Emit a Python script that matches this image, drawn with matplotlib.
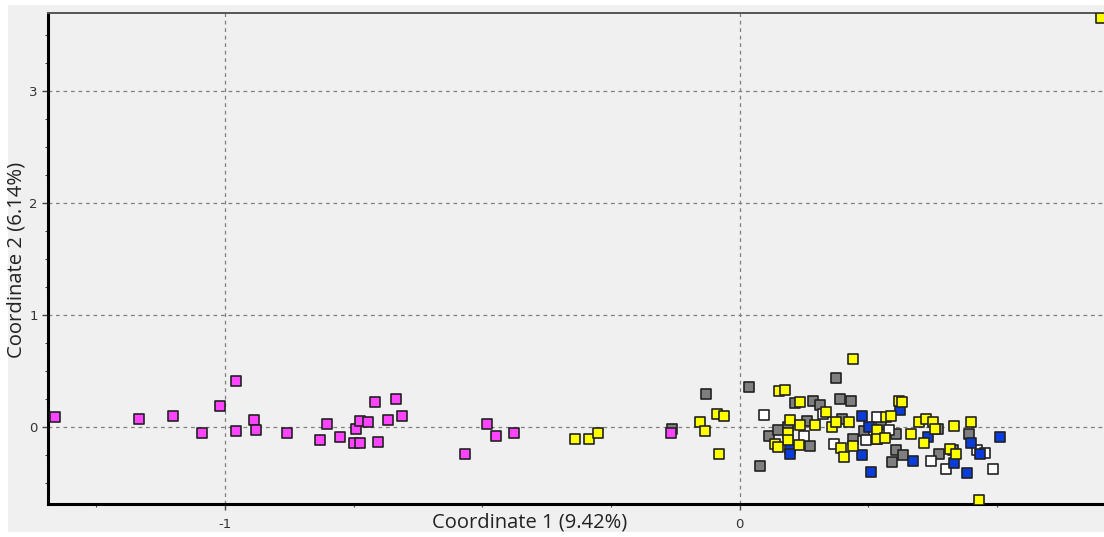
import matplotlib
matplotlib.use("Agg")
import matplotlib.pyplot as plt
from matplotlib.patches import Rectangle
from matplotlib.ticker import MultipleLocator

plt.rcParams['axes.unicode_minus'] = False

# PCoA coordinates
magenta_x = [-1.330, -1.167, -1.101, -1.045, -1.010, -0.979, -0.979, -0.944, -0.940, -0.880,
             -0.816, -0.802, -0.777, -0.750, -0.738, -0.746, -0.738, -0.722, -0.709, -0.703,
             -0.683, -0.668, -0.656, -0.534, -0.491, -0.474, -0.439, -0.134]
magenta_y = [0.09, 0.07, 0.10, -0.05, 0.19, 0.41, -0.04, 0.06, -0.03, -0.05,
             -0.12, 0.03, -0.09, -0.14, -0.14, -0.02, 0.05, 0.04, 0.22, -0.13,
             0.06, 0.25, 0.10, -0.24, 0.03, -0.08, -0.05, -0.05]

gray_x = [-0.132, -0.066, 0.017, 0.039, 0.056, 0.074, 0.093, 0.107, 0.130, 0.136,
          0.142, 0.155, 0.186, 0.194, 0.198, 0.217, 0.219, 0.241, 0.274, 0.303,
          0.303, 0.317, 0.295, 0.386, 0.388, 0.414, 0.445]
gray_y = [-0.02, 0.29, 0.36, -0.35, -0.08, -0.03, 0.00, 0.21, 0.05, -0.17,
          0.23, 0.20, 0.44, 0.25, 0.07, 0.23, -0.11, -0.04, 0.03, -0.06,
          -0.21, -0.25, -0.31, -0.02, -0.24, -0.21, -0.06]

white_x = [0.047, 0.124, 0.161, 0.184, 0.245, 0.266, 0.289, 0.371, 0.400, 0.460, 0.476, 0.491]
white_y = [0.11, -0.08, 0.12, -0.15, -0.12, 0.09, -0.03, -0.30, -0.38, -0.21, -0.23, -0.38]

blue_x = [0.097, 0.097, 0.237, 0.252, 0.237, 0.254, 0.311, 0.336, 0.365, 0.449,
          0.417, 0.441, 0.505, 0.466]
blue_y = [-0.20, -0.24, 0.10, 0.00, -0.25, -0.40, 0.15, -0.30, -0.09, -0.14,
          -0.32, -0.41, -0.09, -0.24]

yellow_x = [-0.320, -0.293, -0.276, -0.078, -0.068, -0.045, -0.031, -0.041, 0.076, 0.087,
            0.117, 0.097, 0.093, 0.093, 0.068, 0.074, 0.117, 0.115, 0.146, 0.167,
            0.179, 0.186, 0.212, 0.196, 0.202, 0.219, 0.219, 0.266, 0.285, 0.309,
            0.315, 0.293, 0.266, 0.266, 0.283, 0.332, 0.348, 0.361, 0.375, 0.379,
            0.357, 0.417, 0.449, 0.408, 0.421, 0.464, 0.701]
yellow_y = [-0.11, -0.11, -0.05, 0.04, -0.04, 0.12, 0.10, -0.24, 0.32, 0.33,
            0.22, 0.06, -0.05, -0.12, -0.15, -0.18, 0.02, -0.16, 0.02, 0.13,
            0.00, 0.04, 0.04, -0.19, -0.27, 0.61, -0.17, -0.11, 0.09, 0.23,
            0.22, 0.10, -0.03, -0.11, -0.10, -0.06, 0.04, 0.07, 0.04, -0.02,
            -0.14, 0.01, 0.04, -0.20, -0.24, -0.65, 3.65]

fig = plt.figure(figsize=(11.04, 5.37), dpi=100, facecolor='white')
fig.patches.append(Rectangle((0.0072, 0.0093), 1.0, 0.9814, transform=fig.transFigure,
                             facecolor='#f0f0f0', edgecolor='none', zorder=-10))

ax = fig.add_axes([0.0435, 0.0615, 0.966, 0.914])
ax.set_facecolor('#f0f0f0')

mk = dict(marker='s', s=62, edgecolors='#222222', linewidths=1.2, zorder=3)
ax.scatter(gray_x, gray_y, c='#7f7f7f', **mk)
ax.scatter(white_x, white_y, c='white', **mk)
ax.scatter(blue_x, blue_y, c='#0a3cdc', **mk)
ax.scatter(yellow_x, yellow_y, c='#ffff00', **mk)
ax.scatter(magenta_x, magenta_y, c='#ff44ff', **mk)

ax.set_xlim(-1.344, 0.728)
ax.set_ylim(-0.688, 3.696)
ax.xaxis.set_major_locator(MultipleLocator(1))
ax.xaxis.set_minor_locator(MultipleLocator(0.25))
ax.yaxis.set_major_locator(MultipleLocator(1))
ax.yaxis.set_minor_locator(MultipleLocator(0.25))
ax.grid(True, which='major', linestyle=(0, (3, 3)), color='#808080', linewidth=0.9)
ax.set_axisbelow(True)

ax.tick_params(which='major', length=4, width=1, colors='#444444', labelsize=9.5, labelcolor='#333333')
ax.tick_params(which='minor', length=2.5, width=0.8, colors='#444444')
ax.tick_params(axis='x', pad=6)

ax.spines['left'].set_linewidth(2.2)
ax.spines['bottom'].set_linewidth(2.2)
ax.spines['left'].set_color('black')
ax.spines['bottom'].set_color('black')
ax.spines['top'].set_linewidth(1.4)
ax.spines['top'].set_color('#555555')
ax.spines['right'].set_visible(False)

ax.set_xlabel('Coordinate 1 (9.42%)', fontsize=14.5, fontfamily='Open Sans', color='#222222')
ax.set_ylabel('Coordinate 2 (6.14%)', fontsize=14.6, fontfamily='Open Sans', color='#222222')
ax.xaxis.set_label_coords(0.452, -0.018)
ax.yaxis.set_label_coords(-0.0206, 0.497)

plt.savefig('out.png', dpi=100, facecolor=fig.get_facecolor())
